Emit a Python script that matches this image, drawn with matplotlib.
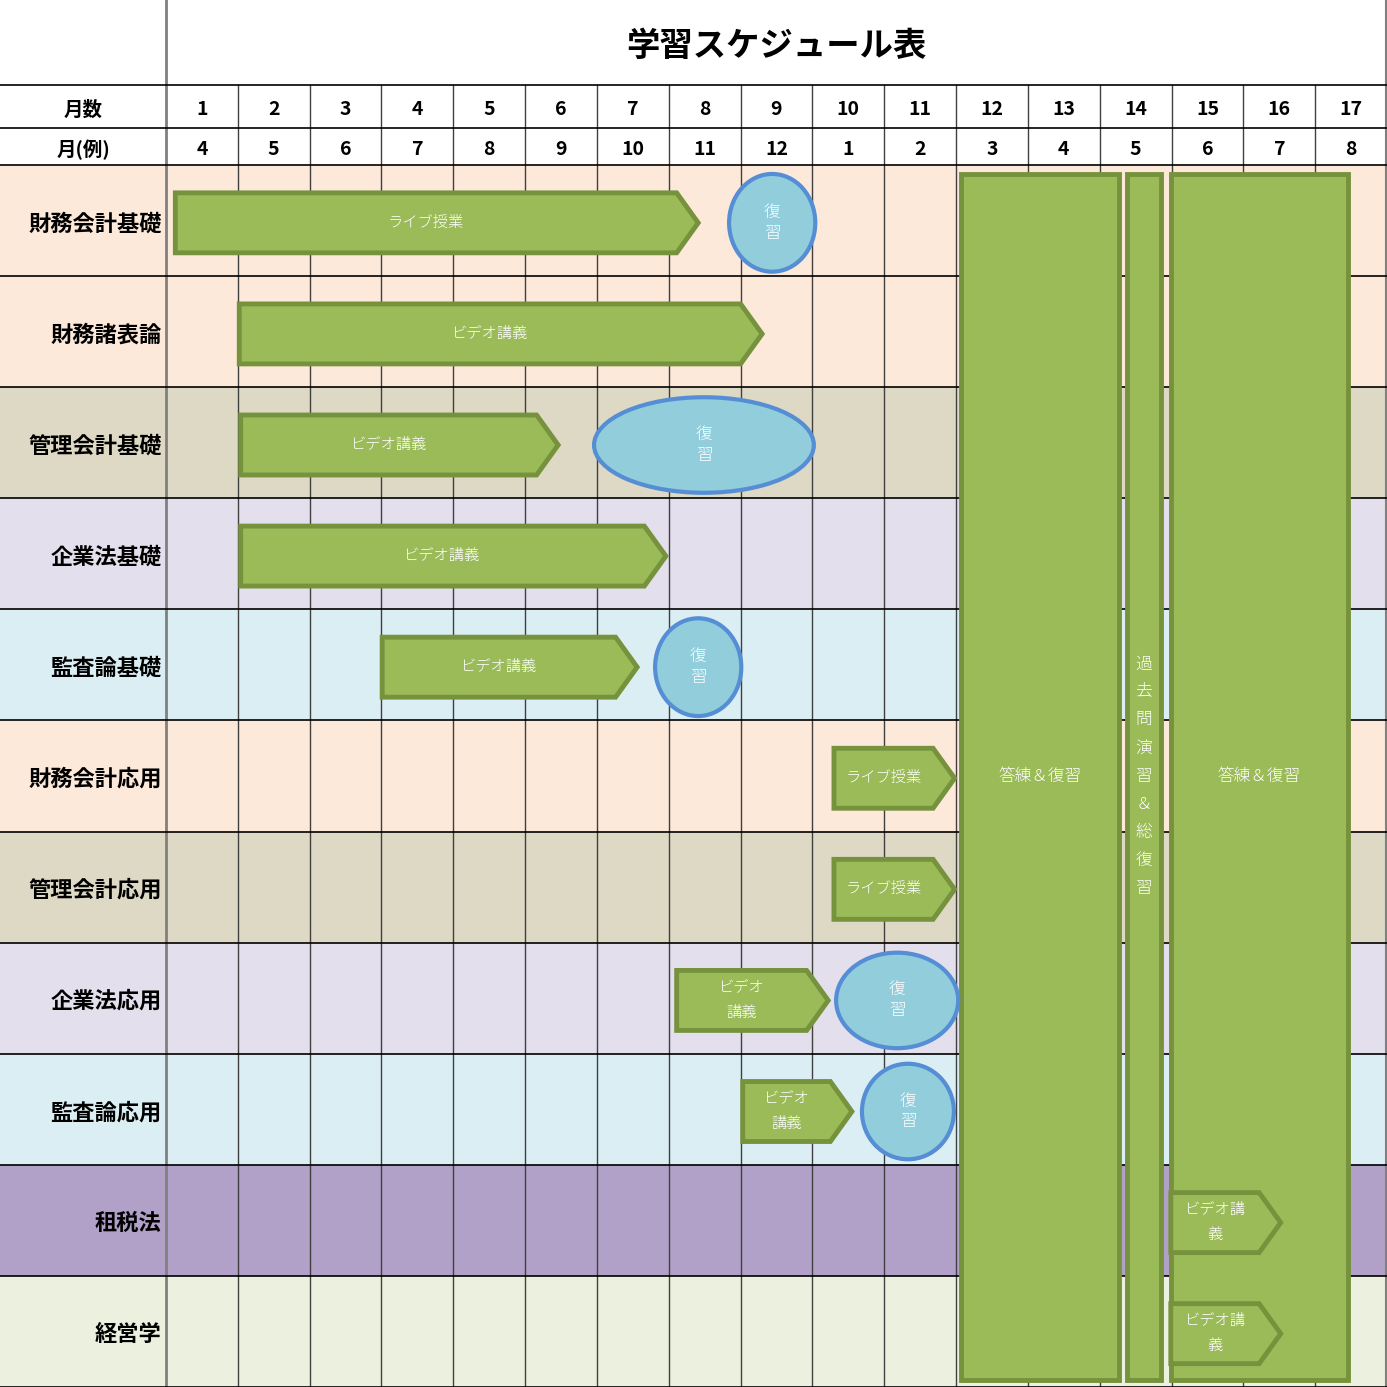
import matplotlib
matplotlib.use("Agg")
import matplotlib.pyplot as plt
from matplotlib.patches import Polygon, Rectangle, Ellipse

plt.rcParams["font.family"] = ["Noto Sans CJK JP", "DejaVu Sans"]

TITLE = "学習スケジュール表"
MONTH_NUMS = [str(i) for i in range(1, 18)]
MONTH_EXAMPLE = ["4", "5", "6", "7", "8", "9", "10", "11", "12", "1", "2", "3", "4", "5", "6", "7", "8"]
SUBJECTS = ["財務会計基礎", "財務諸表論", "管理会計基礎", "企業法基礎", "監査論基礎",
            "財務会計応用", "管理会計応用", "企業法応用", "監査論応用", "租税法", "経営学"]
ROW_COLORS = ["#FDE9D9", "#FDE9D9", "#DDD9C4", "#E4DFEC", "#DAEEF3",
              "#FDE9D9", "#DDD9C4", "#E4DFEC", "#DAEEF3", "#B1A0C7", "#EBF1DE"]

# arrows: (row, start month, tip month, label)
ARROWS = [
    (0, 0.13, 7.41, "ライブ授業"),
    (1, 1.02, 8.30, "ビデオ講義"),
    (2, 1.04, 5.46, "ビデオ講義"),
    (3, 1.04, 6.96, "ビデオ講義"),
    (4, 3.01, 6.56, "ビデオ講義"),
    (5, 9.30, 10.98, "ライブ授業"),
    (6, 9.30, 10.98, "ライブ授業"),
    (7, 7.11, 9.22, "ビデオ\n講義"),
    (8, 8.03, 9.55, "ビデオ\n講義"),
    (9, 13.99, 15.52, "ビデオ講\n義"),
    (10, 13.99, 15.52, "ビデオ講\n義"),
]
# review ellipses: (row, centre month, width, height)
REVIEWS = [
    (0, 8.44, 1.20, 0.88),
    (2, 7.49, 3.06, 0.86),
    (4, 7.41, 1.20, 0.88),
    (7, 10.18, 1.70, 0.86),
    (8, 10.33, 1.28, 0.86),
]
# tall bars: (start month, end month, label, vertical)
BARS = [
    (11.07, 13.27, "答練＆復習", False),
    (13.38, 13.85, "過去問演習＆総復習", True),
    (13.99, 16.46, "答練＆復習", False),
]

N_MONTH = len(MONTH_NUMS)
N_ROW = len(SUBJECTS)
LABEL_W = 2.311          # label column width in month units
TITLE_H, HEAD1_H, HEAD2_H = 0.766, 0.387, 0.333
TIP = 0.30
ARROW_H = 0.54

GREEN, GREEN_EDGE = "#9BBB59", "#76923C"
BLUE, BLUE_EDGE = "#92CDDC", "#558ED5"

fig = plt.figure(figsize=(13.87, 13.87), dpi=100)
ax = fig.add_axes([0, 0, 1, 1])
top = -(TITLE_H + HEAD1_H + HEAD2_H)
ax.set_xlim(-LABEL_W, N_MONTH)
ax.set_ylim(N_ROW, top)
ax.axis("off")

y_h1 = -(HEAD1_H + HEAD2_H)
y_h2 = -HEAD2_H

# row backgrounds + subject labels
for i, (name, c) in enumerate(zip(SUBJECTS, ROW_COLORS)):
    ax.add_patch(Rectangle((-LABEL_W, i), LABEL_W + N_MONTH, 1, facecolor=c, edgecolor="none", zorder=0))
    ax.text(-0.06, i + 0.53, name, ha="right", va="center", fontsize=16, fontweight="bold", zorder=3)

# grid lines
for j in range(1, N_MONTH + 1):
    ax.plot([j, j], [y_h1, N_ROW], color="#404040", lw=1.0, zorder=1)
ax.plot([0, 0], [top, N_ROW], color="#808080", lw=2.0, zorder=1)
ax.plot([N_MONTH - 0.02] * 2, [top, N_ROW], color="#808080", lw=1.5, zorder=1)
for y in [y_h1, y_h2] + list(range(N_ROW + 1)):
    ax.plot([-LABEL_W, N_MONTH], [y, y], color="black", lw=1.2, zorder=1)

# header
ax.text(N_MONTH / 2, top + TITLE_H / 2 + 0.04, TITLE, ha="center", va="center", fontsize=24, fontweight="bold")
ax.text(-LABEL_W / 2, y_h1 + HEAD1_H / 2 + 0.03, "月数", ha="center", va="center", fontsize=14, fontweight="bold")
ax.text(-LABEL_W / 2, y_h2 + HEAD2_H / 2 + 0.03, "月(例)", ha="center", va="center", fontsize=14, fontweight="bold")
for j, (a, b) in enumerate(zip(MONTH_NUMS, MONTH_EXAMPLE)):
    ax.text(j + 0.5, y_h1 + HEAD1_H / 2 + 0.03, a, ha="center", va="center", fontsize=14, fontweight="bold")
    ax.text(j + 0.5, y_h2 + HEAD2_H / 2 + 0.03, b, ha="center", va="center", fontsize=14, fontweight="bold")

# tall bars
bar_top, bar_bot = 0.08, N_ROW - 0.06
for x0, x1, label, vertical in BARS:
    ax.add_patch(Rectangle((x0, bar_top), x1 - x0, bar_bot - bar_top, facecolor=GREEN,
                           edgecolor=GREEN_EDGE, lw=3.5, zorder=4))
    txt = "\n".join(label) if vertical else label
    ax.text((x0 + x1) / 2, 5.5, txt, ha="center", va="center", color="white", fontsize=12,
            fontweight="light", linespacing=1.85, zorder=5)

# arrows
for row, x0, x1, label in ARROWS:
    yc = row + 0.52
    y0, y1 = yc - ARROW_H / 2, yc + ARROW_H / 2
    pts = [(x0, y0), (x1 - TIP, y0), (x1, yc), (x1 - TIP, y1), (x0, y1)]
    ax.add_patch(Polygon(pts, closed=True, facecolor=GREEN, edgecolor=GREEN_EDGE, lw=3.5,
                         joinstyle="miter", zorder=6))
    ax.text((x0 + x1 - TIP) / 2, yc, label, ha="center", va="center", color="white",
            fontsize=11, fontweight="light", linespacing=2.0, zorder=7)

# review ellipses
for row, xc, w, h in REVIEWS:
    ax.add_patch(Ellipse((xc, row + 0.52), w, h, facecolor=BLUE, edgecolor=BLUE_EDGE, lw=3, zorder=6))
    ax.text(xc, row + 0.52, "復\n習", ha="center", va="center", color="white", fontsize=12,
            fontweight="light", linespacing=1.3, zorder=7)

fig.savefig("out.png", dpi=100)
